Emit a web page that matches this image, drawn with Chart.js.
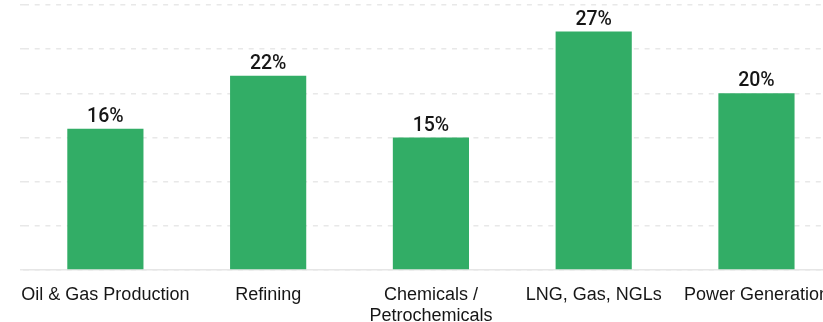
<!DOCTYPE html>
<html>
<head>
<meta charset="utf-8">
<script src="https://cdn.jsdelivr.net/npm/chart.js@4/dist/chart.umd.min.js"></script>
<style>
  html, body { margin: 0; padding: 0; background: #ffffff; overflow: hidden; }
  #wrap { width: 844px; height: 322px; }
</style>
</head>
<body>
<div id="wrap"><canvas id="chart" width="844" height="322"></canvas></div>
<script>
// Share of spend by segment
const categories = [
  'Oil & Gas Production',
  'Refining',
  ['Chemicals /', 'Petrochemicals'],
  'LNG, Gas, NGLs',
  'Power Generation'
];
const shares = [16, 22, 15, 27, 20];
const valueLabels = ['16%', '22%', '15%', '27%', '20%'];
const yTicks = [0, 5, 10, 15, 20, 25, 30];

const FONT = "'Liberation Sans', Arial, sans-serif";
const VALUE_FONT = "Roboto, 'Liberation Sans', sans-serif";

// Writes each bar's percentage just above its top edge
const barValueLabels = {
  id: 'barValueLabels',
  afterDatasetsDraw(chart) {
    const ctx = chart.ctx;
    const meta = chart.getDatasetMeta(0);
    ctx.save();
    ctx.font = '500 19.5px ' + VALUE_FONT;
    ctx.fillStyle = '#161616';
    ctx.textAlign = 'center';
    ctx.textBaseline = 'alphabetic';
    meta.data.forEach((bar, i) => {
      ctx.fillText(valueLabels[i], bar.x, bar.y - 7);
    });
    ctx.restore();
  }
};

new Chart(document.getElementById('chart'), {
  type: 'bar',
  data: {
    labels: categories,
    datasets: [{
      data: shares,
      backgroundColor: '#32ad66',
      borderWidth: 0,
      categoryPercentage: 1,
      barPercentage: 0.468
    }]
  },
  options: {
    responsive: false,
    animation: false,
    layout: { padding: { left: 20, top: 5, right: 0, bottom: 0 } },
    plugins: {
      legend: { display: false },
      tooltip: { enabled: false }
    },
    scales: {
      x: {
        grid: { display: false, drawTicks: false },
        border: { display: true, color: '#e6e6e6', width: 1.5 },
        ticks: {
          padding: 15,
          maxRotation: 0,
          autoSkip: false,
          color: '#161616',
          font: { family: FONT, size: 18, lineHeight: '20.5px' }
        },
        afterFit(scale) { scale.height = 52; }
      },
      y: {
        min: 0,
        max: 30,
        afterBuildTicks(scale) { scale.ticks = yTicks.map(v => ({ value: v })); },
        ticks: { display: false },
        grid: {
          color: '#e8e8e8',
          lineWidth: 1.5,
          drawTicks: true,
          tickLength: 4,
          tickBorderDash: [5, 5.7]
        },
        border: { display: false, dash: [5, 5.7] }
      }
    }
  },
  plugins: [barValueLabels]
});
</script>
</body>
</html>
